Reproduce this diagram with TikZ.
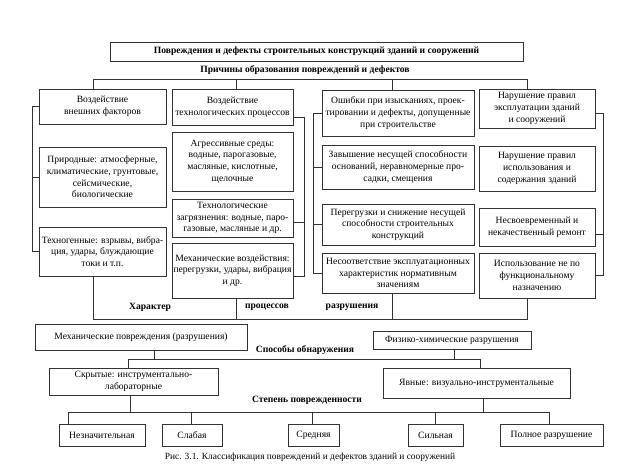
\documentclass[tikz,border=0pt]{standalone}
\usepackage{fontspec}
\setmainfont{Liberation Serif}
\usetikzlibrary{calc}
\newcommand\mybox[6]{%
  \pgfmathsetmacro\bcx{(#2+#4)/2}\pgfmathsetmacro\bcy{(#3+#5)/2}%
  \pgfmathsetmacro\bww{#4-#2}\pgfmathsetmacro\bhh{#5-#3}%
  \node[box,minimum width=\bww pt,minimum height=\bhh pt] (#1) at (\bcx,\bcy) {#6};}
\begin{document}
\begin{tikzpicture}[x=1pt,y=-1pt,
  box/.style={draw=black!80, line width=0.6pt, align=center, inner xsep=0pt, inner ysep=1pt,
    font=\fontsize{9.6}{11.7}\selectfont},
  hd/.style={font=\bfseries\fontsize{9.6}{10}\selectfont, inner sep=0pt},
  ln/.style={draw=black!80, line width=0.6pt}]
\useasboundingbox[fill=white] (0,0) rectangle (618,464);

% title
\mybox{title}{110}{42}{523}{61}{\bfseries Повреждения и дефекты строительных конструкций зданий и сооружений}
\node[hd] (tpr) at (305,70) {Причины образования повреждений и дефектов};

% column 1
\mybox{b1}{39}{89}{166}{124}{Воздействие\\внешних факторов}
\mybox{b1a}{39}{147}{166}{207}{Природные: атмосферные,\\климатические, грунтовые,\\сейсмические,\\биологические}
\mybox{b1b}{39}{227}{166}{276}{Техногенные: взрывы, вибра-\\ция, удары, блуждающие\\токи и т.п.}
% column 2
\mybox{b2}{172}{89}{293}{125}{Воздействие\\технологических процессов}
\mybox{b2a}{172}{132}{293}{191}{Агрессивные среды:\\водные, парогазовые,\\масляные, кислотные,\\щелочные}
\mybox{b2b}{172}{199}{293}{237}{Технологические\\загрязнения: водные, паро-\\газовые, масляные и др.}
\mybox{b2c}{172}{243}{293}{298}{Механические воздействия:\\перегрузки, удары, вибрация\\и др.}
% column 3
\mybox{b3}{322}{90}{474}{136}{Ошибки при изысканиях, проек-\\тировании и дефекты, допущенные\\при строительстве}
\mybox{b3a}{322}{145}{474}{189}{Завышение несущей способности\\оснований, неравномерные про-\\садки, смещения}
\mybox{b3b}{322}{204}{474}{245}{Перегрузки и снижение несущей\\способности строительных\\конструкций}
\mybox{b3c}{322}{253}{474}{293}{Несоответствие эксплуатационных\\характеристик нормативным\\значениям}
% column 4
\mybox{b4}{479}{89}{595}{128}{Нарушение правил\\эксплуатации зданий\\и сооружений}
\mybox{b4a}{479}{146}{595}{191}{Нарушение правил\\использования и\\содержания зданий}
\mybox{b4b}{479}{208}{595}{246}{Несвоевременный и\\некачественный ремонт}
\mybox{b4c}{479}{253}{595}{298}{Использование не по\\функциональному\\назначению}

% column x positions
\coordinate (x1) at (93,0);
\coordinate (x2) at (236,0);
\coordinate (x3) at (392,0);
\coordinate (x4) at (527,0);
\coordinate (tb) at (0,79);
\coordinate (bb) at (0,319);

% top bus
\draw[ln] (b1.north -| x1) -- (x1 |- tb) -- (x4 |- tb) -- (b4.north -| x4);
\draw[ln] (b2.north -| x2) -- (x2 |- tb);
\draw[ln] (b3.north -| x3) -- (x3 |- tb);

% brackets
\coordinate (k1) at (32,0);
\draw[ln] (b1.west) -- (b1.west -| k1) -- (b1b.west -| k1) -- (b1b.west);
\draw[ln] (b1a.west) -- (b1a.west -| k1);

\coordinate (k2t) at (304,117);
\coordinate (k2m) at (304,222);
\coordinate (k2b) at (304,276);
\draw[ln] (b2.east |- k2t) -- (k2t) -- (k2b) -- (b2c.east |- k2b);
\draw[ln] (b2b.east |- k2m) -- (k2m);

\coordinate (k3) at (313,0);
\draw[ln] (b3.west) -- (b3.west -| k3) -- (b3c.west -| k3) -- (b3c.west);
\draw[ln] (b3a.west) -- (b3a.west -| k3);
\draw[ln] (b3b.west) -- (b3b.west -| k3);

\coordinate (k4t) at (603,113);
\coordinate (k4m) at (603,234);
\coordinate (k4b) at (603,275);
\draw[ln] (b4.east |- k4t) -- (k4t) -- (k4b) -- (b4c.east |- k4b);
\draw[ln] (b4b.east |- k4m) -- (k4m);

% bottom bus
\draw[ln] (b1b.south -| x1) -- (x1 |- bb) -- (x4 |- bb) -- (b4c.south -| x4);
\draw[ln] (b2c.south -| x2) -- (x2 |- bb);
\draw[ln] (b3c.south -| x3) -- (x3 |- bb);
\node[hd] (th1) at (150,307) {Характер};
\node[hd] (th2) at (267,307) {процессов};
\node[hd] (th3) at (352,307) {разрушения};

% kinds of damage
\mybox{m}{35}{324}{247}{350}{Механические повреждения (разрушения)}
\mybox{f}{373}{331}{531}{349}{Физико-химические разрушения}
\node[hd] (tsp) at (305,350) {Способы обнаружения};
\mybox{s}{49}{368}{218}{395}{Скрытые: инструментально-\\лабораторные}
\mybox{ya}{383}{368}{570}{398}{Явные: визуально-инструментальные}
\coordinate (ya1) at (0,359);
\coordinate (xm) at (154,0);
\coordinate (xf) at (454,0);
\coordinate (xs) at (128,0);
\coordinate (xy) at (480,0);
\draw[ln] (m.south -| xm) -- (xm |- ya1);
\draw[ln] (f.south -| xf) -- (xf |- ya1);
\draw[ln] (s.north -| xs) -- (xs |- ya1) -- (xy |- ya1) -- (ya.north -| xy);

\node[hd] (tst) at (307,400) {Степень поврежденности};
\mybox{n1}{59}{424}{145}{446}{Незначительная}
\mybox{n2}{162}{424}{222}{446}{Слабая}
\mybox{n3}{288}{424}{339}{446}{Средняя}
\mybox{n4}{408}{424}{463}{446}{Сильная}
\mybox{n5}{500}{424}{603}{446}{Полное разрушение}
\coordinate (ya2) at (0,412);
\coordinate (xs2) at (130,0);
\coordinate (xy2) at (483,0);
\coordinate (d1) at (68,0);
\coordinate (d2) at (191,0);
\coordinate (d3) at (312,0);
\coordinate (d4) at (435,0);
\coordinate (d5) at (549,0);
\draw[ln] (s.south -| xs2) -- (xs2 |- ya2);
\draw[ln] (ya.south -| xy2) -- (xy2 |- ya2);
\draw[ln] (n1.north -| d1) -- (d1 |- ya2) -- (d5 |- ya2) -- (n5.north -| d5);
\draw[ln] (n2.north -| d2) -- (d2 |- ya2);
\draw[ln] (n3.north -| d3) -- (d3 |- ya2);
\draw[ln] (n4.north -| d4) -- (d4 |- ya2);

\node[font=\fontsize{9.4}{10}\selectfont, inner sep=0pt] (cap) at (310,457) {Рис. 3.1. Классификация повреждений и дефектов зданий и сооружений};
\end{tikzpicture}
\end{document}
